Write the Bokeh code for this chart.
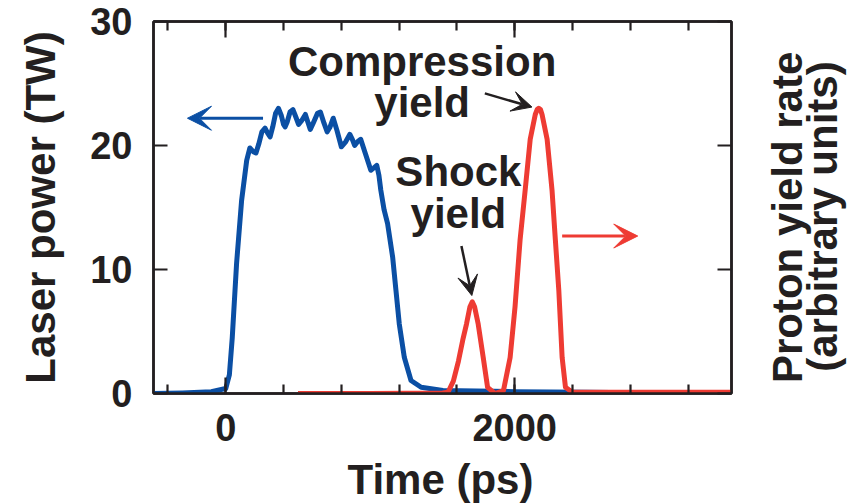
import math
from bokeh.plotting import figure
from bokeh.layouts import row, column
from bokeh.models import (LinearAxis, SingleIntervalTicker, Range1d, Arrow,
                          VeeHead, Label)
from bokeh.embed import file_html
from bokeh.resources import INLINE

# ---- data ----
laser_t = [-500, -300, -100, 0, 25, 45, 75, 110, 145, 167, 190, 209, 228, 250,
           272, 290, 307, 325, 345, 365, 385, 400, 411, 425, 445, 465, 485,
           504, 525, 551, 568, 585, 605, 635, 655, 680, 702, 722, 744, 770,
           800, 830, 859, 876, 892, 912, 934, 965, 1004, 1025, 1045, 1060,
           1073, 1096, 1120, 1155, 1178, 1201, 1236, 1282, 1352, 1503, 2000,
           2500, 3000, 3500]
laser_p = [0.0, 0.05, 0.15, 0.4, 1.5, 4.5, 10.5, 15.6, 18.8, 19.8, 19.5, 19.4,
           20.1, 21.1, 21.4, 21.0, 20.7, 21.5, 22.6, 23.0, 22.4, 21.7, 21.5,
           21.9, 22.7, 22.9, 22.3, 21.7, 22.0, 22.5, 21.9, 21.3, 21.8, 22.6,
           22.7, 21.8, 21.1, 21.5, 22.2, 21.2, 19.9, 20.3, 20.9, 20.5, 20.0,
           20.3, 20.5, 19.4, 18.0, 18.2, 18.4, 17.6, 16.4, 14.8, 13.7, 11.0,
           8.3, 5.6, 2.9, 1.05, 0.5, 0.25, 0.15, 0.1, 0.05, 0.05]

proton_t = [500, 1000, 1500, 1538, 1575, 1610, 1640, 1666, 1690, 1706, 1722,
            1747, 1782, 1812, 1863, 1922, 1968, 2002, 2037, 2072, 2107, 2142,
            2155, 2166, 2178, 2189, 2224, 2258, 2281, 2305, 2328, 2351, 2398,
            3000, 3500]
proton_y = [0.0, 0.0, 0.05, 0.1, 1.0, 2.6, 4.3, 5.6, 7.0, 7.4, 7.0, 5.6, 2.9,
            0.5, 0.0, 0.24, 2.9, 7.0, 12.4, 16.4, 20.5, 22.5, 22.9, 23.0, 22.9,
            22.5, 20.5, 16.4, 12.4, 8.3, 2.9, 0.5, 0.1, 0.1, 0.1]

x_ticks_major = 2000
x_ticks_minor_count = 4
y_ticks_major = 10

x_title = "Time (ps)"
y_title = "Laser power (TW)"
y2_title = ["Proton yield rate", "(arbitrary units)"]

# annotation positions (data units of the main plot)
laser_arrow = [258, 22.2, -265, 22.2]
proton_arrow = [2328, 12.7, 2851, 12.7]
comp_arrow = [1793, 24.2, 2119, 23.1]
shock_arrow = [1631, 11.9, 1703, 7.9]
comp_text = [("Compression", 1359, 26.8), ("yield", 1359, 23.5)]
shock_text = [("Shock", 1610, 17.9), ("yield", 1610, 14.5)]
# title panels (panel pixels, origin bottom-left)
y2_title_pos = [(27, 214), (62, 215)]
x_title_pos = (440, 25)

BLUE = "#0b4fa4"
RED = "#ee3b33"
INK = "#231f20"
FONT = "Liberation Sans"

MAIN_W, MAIN_H = 760, 452

p = figure(width=MAIN_W, height=MAIN_H, output_backend="svg", toolbar_location=None,
           title=None, x_range=Range1d(-500, 3500), y_range=Range1d(0, 30),
           x_axis_location=None, y_axis_location=None,
           min_border_left=153, min_border_right=29, min_border_top=21,
           min_border_bottom=59)
p.background_fill_color = "white"
p.border_fill_color = "white"
p.outline_line_color = INK
p.outline_line_width = 2.5
p.xgrid.grid_line_color = None
p.ygrid.grid_line_color = None


def style_axis(ax, major_in, minor_in, labels=True):
    ax.axis_line_color = INK
    ax.axis_line_width = 2.5
    ax.major_tick_line_color = INK
    ax.minor_tick_line_color = INK
    ax.major_tick_line_width = 2.2
    ax.minor_tick_line_width = 2.2
    ax.major_tick_in = major_in
    ax.major_tick_out = 0
    ax.minor_tick_in = minor_in
    ax.minor_tick_out = 0
    ax.major_label_text_font = FONT
    ax.major_label_text_font_style = "bold"
    ax.major_label_text_color = INK
    ax.axis_label_text_font = FONT
    ax.axis_label_text_font_style = "bold"
    ax.axis_label_text_color = INK
    ax.axis_label_text_font_size = "42px"
    if labels:
        ax.major_label_text_font_size = "38px"
    else:
        ax.major_label_text_font_size = "1px"
        ax.major_label_standoff = 0


# bottom axis
xb = LinearAxis(ticker=SingleIntervalTicker(interval=x_ticks_major,
                                            num_minor_ticks=x_ticks_minor_count + 1))
style_axis(xb, 16, 9)
xb.major_label_standoff = 20
p.add_layout(xb, "below")

# top axis (ticks only)
xt = LinearAxis(ticker=SingleIntervalTicker(interval=x_ticks_major,
                                            num_minor_ticks=x_ticks_minor_count + 1))
style_axis(xt, 16, 9, labels=False)
xt.major_label_overrides = {0: "", 2000: ""}
p.add_layout(xt, "above")

# left axis
yl = LinearAxis(ticker=SingleIntervalTicker(interval=y_ticks_major, num_minor_ticks=0))
style_axis(yl, 14, 0)
yl.axis_label = y_title
yl.major_label_standoff = 21
yl.axis_label_standoff = 23
p.add_layout(yl, "left")

# right axis (ticks only)
yr = LinearAxis(ticker=SingleIntervalTicker(interval=y_ticks_major, num_minor_ticks=0))
style_axis(yr, 14, 0, labels=False)
yr.major_label_overrides = {0: "", 10: "", 20: "", 30: ""}
p.add_layout(yr, "right")

p.line(laser_t, laser_p, line_color=BLUE, line_width=5, line_join="round")
p.line(proton_t, proton_y, line_color=RED, line_width=5, line_join="round")


def add_arrow(coords, color, size, width):
    x0, y0, x1, y1 = coords
    p.add_layout(Arrow(end=VeeHead(size=size, fill_color=color, line_color=color,
                                   line_width=1),
                       x_start=x0, y_start=y0, x_end=x1, y_end=y1,
                       line_color=color, line_width=width))


add_arrow(laser_arrow, BLUE, 24, 3)
add_arrow(proton_arrow, RED, 24, 3)
add_arrow(comp_arrow, INK, 20, 2.5)
add_arrow(shock_arrow, INK, 20, 2.5)


def add_text(fig, txt, x, y, angle=0.0):
    fig.add_layout(Label(x=x, y=y, text=txt, text_font=FONT, text_font_style="bold",
                         text_font_size="42px", text_color=INK, text_align="center",
                         text_baseline="alphabetic", angle=angle))


for txt, x, y in comp_text + shock_text:
    add_text(p, txt, x, y)


def panel(w, h):
    f = figure(width=w, height=h, output_backend="svg", toolbar_location=None,
               title=None, x_range=Range1d(0, w), y_range=Range1d(0, h),
               x_axis_location=None, y_axis_location=None,
               min_border_left=0, min_border_right=0, min_border_top=0,
               min_border_bottom=0)
    f.outline_line_color = None
    f.background_fill_color = "white"
    f.border_fill_color = "white"
    f.xgrid.grid_line_color = None
    f.ygrid.grid_line_color = None
    return f


# right-hand title panel
p2 = panel(861 - MAIN_W, MAIN_H)
for txt, (x, y) in zip(y2_title, y2_title_pos):
    add_text(p2, txt, x, y, angle=math.pi / 2)

# bottom title panel
p3 = panel(861, 504 - MAIN_H)
add_text(p3, x_title, x_title_pos[0], x_title_pos[1])

layout = column(row(p, p2, spacing=0), p3, spacing=0)
open("out.html", "w").write(file_html(layout, INLINE))
